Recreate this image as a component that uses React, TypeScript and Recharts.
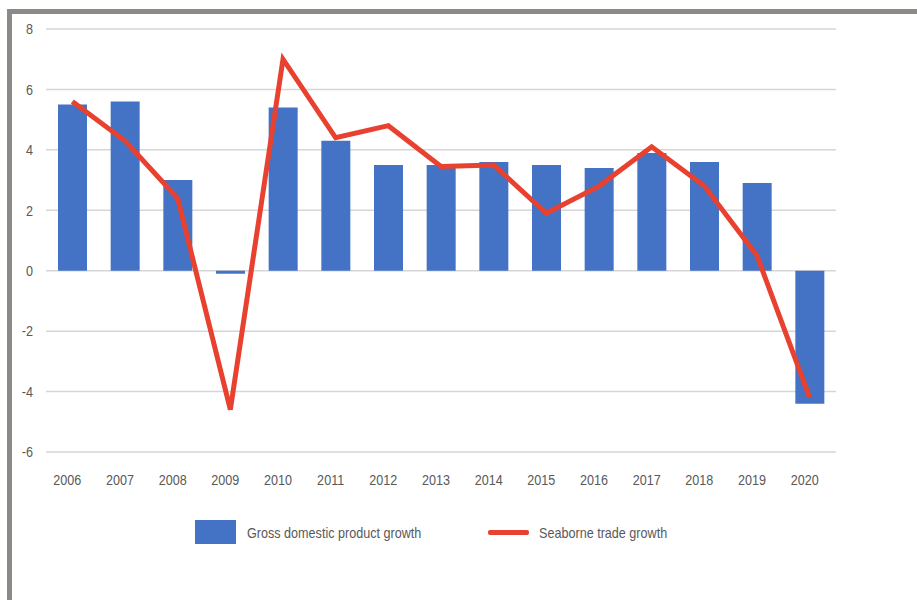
import React from 'react';
import { ComposedChart, Bar, Line, XAxis, YAxis, CartesianGrid, Legend } from 'recharts';

const years = ['2006', '2007', '2008', '2009', '2010', '2011', '2012', '2013', '2014', '2015', '2016', '2017', '2018', '2019', '2020'];
const gdpGrowth = [5.5, 5.6, 3.0, -0.1, 5.4, 4.3, 3.5, 3.5, 3.6, 3.5, 3.4, 3.9, 3.6, 2.9, -4.4];
const seaborneGrowth = [5.6, 4.3, 2.4, -4.6, 7.0, 4.4, 4.8, 3.45, 3.5, 1.9, 2.8, 4.1, 2.8, 0.5, -4.2];
const yTicks = [-6, -4, -2, 0, 2, 4, 6, 8];
const seriesNames = ['Gross domestic product growth', 'Seaborne trade growth'];

const data = years.map((y, i) => ({ year: y, gdp: gdpGrowth[i], sea: seaborneGrowth[i] }));

const FONT = "'Liberation Sans', Arial, sans-serif";
const BLUE = '#4472C4';
const RED = '#E8412F';
const TEXT = '#595959';
const SQUEEZE = 0.84;

const XTick = (props: any) => {
  const { x, y, payload } = props;
  return (
    <g transform={`translate(${x - 5},${y})`}>
      <text transform={`scale(${SQUEEZE},1)`} textAnchor="middle" dy="0.71em" fill={TEXT} fontSize={15} fontFamily={FONT}>
        {payload.value}
      </text>
    </g>
  );
};

const YTick = (props: any) => {
  const { x, y, payload } = props;
  return (
    <g transform={`translate(${x},${y})`}>
      <text transform={`scale(${SQUEEZE},1)`} textAnchor="end" dy="0.355em" fill={TEXT} fontSize={15} fontFamily={FONT}>
        {payload.value}
      </text>
    </g>
  );
};

const labelStyle: React.CSSProperties = {
  display: 'inline-block',
  transform: `scaleX(${SQUEEZE})`,
  transformOrigin: 'left center',
  whiteSpace: 'nowrap',
};

const LegendContent = (props: any) => {
  const payload = props.payload || [];
  const bar = payload.find((p: any) => p.dataKey === 'gdp');
  const line = payload.find((p: any) => p.dataKey === 'sea');
  return (
    <div style={{ position: 'relative', width: 917, height: 30, fontFamily: FONT, fontSize: 15, color: TEXT }}>
      {bar && (
        <div style={{ position: 'absolute', left: 195, top: 2, display: 'flex', alignItems: 'center' }}>
          <div style={{ width: 41, height: 24, background: bar.color }} />
          <span style={{ ...labelStyle, marginLeft: 11 }}>{bar.value}</span>
        </div>
      )}
      {line && (
        <div style={{ position: 'absolute', left: 488, top: 2, height: 24, display: 'flex', alignItems: 'center' }}>
          <div style={{ width: 41, height: 5, borderRadius: 2, background: line.color }} />
          <span style={{ ...labelStyle, marginLeft: 10 }}>{line.value}</span>
        </div>
      )}
    </div>
  );
};

export default function App() {
  return (
    <div style={{ position: 'absolute', left: 0, top: 0, width: 917, height: 600, background: '#fff', overflow: 'hidden' }}>
      <div style={{ position: 'absolute', left: 7, top: 9, width: 910, height: 5, background: '#8d8986' }} />
      <div style={{ position: 'absolute', left: 7, top: 9, width: 5, height: 591, background: '#8d8986' }} />
      <div style={{ position: 'absolute', left: 0, top: 0 }}>
        <ComposedChart
          width={917}
          height={600}
          data={data}
          margin={{ top: 29, right: 81, left: 0, bottom: 108 }}
          barCategoryGap="22%"
        >
          <CartesianGrid vertical={false} stroke="#d6d6d6" strokeWidth={1.5} />
          <XAxis
            dataKey="year"
            height={40}
            axisLine={false}
            tickLine={false}
            tickMargin={16}
            interval={0}
            tick={<XTick />}
          />
          <YAxis
            width={46}
            domain={[-6, 8]}
            ticks={yTicks}
            axisLine={false}
            tickLine={false}
            tickMargin={7}
            interval={0}
            tick={<YTick />}
          />
          <Bar dataKey="gdp" name={seriesNames[0]} fill={BLUE} barSize={29} isAnimationActive={false} />
          <Line
            dataKey="sea"
            name={seriesNames[1]}
            type="linear"
            stroke={RED}
            strokeWidth={5}
            dot={false}
            activeDot={false}
            isAnimationActive={false}
          />
          <Legend
            layout="horizontal"
            verticalAlign="middle"
            align="center"
            content={<LegendContent />}
            wrapperStyle={{ left: 0, top: 518, width: 917, height: 30 }}
          />
        </ComposedChart>
      </div>
    </div>
  );
}
